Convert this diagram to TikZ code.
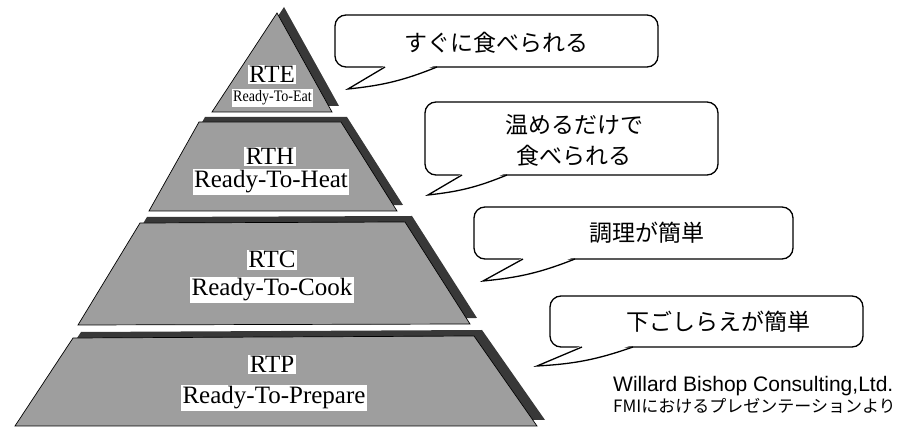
\documentclass[tikz,border=0pt]{standalone}
\usepackage{fontspec}
\usepackage{graphicx}
\setmainfont{Liberation Serif}
\newfontfamily\jpfont{Noto Sans CJK JP}
\newfontfamily\citefont{Liberation Sans}
\tikzset{
  front/.style={fill=black!38, draw=black, line width=0.7pt, line join=miter},
  shadowpart/.style={fill=black!78},
  lab/.style={fill=white, inner sep=1.5pt, anchor=base, font=\fontsize{25}{25}\selectfont},
  bubblebox/.style={draw=black, line width=1.3pt, fill=white, rounded corners=11pt},
  tailfill/.style={fill=white},
  tailline/.style={draw=black, line width=1.3pt, line join=miter},
  btext/.style={font=\jpfont\fontsize{23}{31}\selectfont, align=center, inner sep=0pt},
}
\begin{document}
\begin{tikzpicture}[x=1pt,y=-1pt]
\useasboundingbox (0,0) rectangle (903,427);

% ---------- pyramid layers ----------
% RTE
\fill[shadowpart] (284,7) -- (219,106) -- (339,106) -- cycle;
\draw[front] (277,13) -- (212,112) -- (332,112) -- cycle;
% RTH
\fill[shadowpart] (205,117) -- (347,117) -- (403,205) -- (155,206) -- cycle;
\draw[front] (199,122) -- (341,122) -- (397,211) -- (149,211) -- cycle;
% RTC
\fill[shadowpart] (147,217) -- (412,216) -- (477,318) -- (85,319) -- cycle;
\draw[front] (140,223) -- (405,222) -- (470,324) -- (78,325) -- cycle;
% RTP
\fill[shadowpart] (81,332) -- (482,330) -- (545,420) -- (23,420) -- cycle;
\draw[front] (73,338) -- (474,336) -- (537,426) -- (15,426) -- cycle;

% ---------- layer labels ----------
\node[lab] (rte) at (272,83) {RTE};
\node[lab, font=\fontsize{16}{16}\selectfont] (rtefull) at (272.5,102) {\scalebox{0.88}[1]{Ready-To-Eat}};
\node[lab] (rth) at (270,165) {RTH};
\node[lab] (rthfull) at (271,188) {Ready-To-Heat};
\node[lab] (rtc) at (272,268) {RTC};
\node[lab] (rtcfull) at (272,296) {Ready-To-Cook};
\node[lab] (rtp) at (272,373) {RTP};
\node[lab] (rtpfull) at (274,404) {Ready-To-Prepare};

% ---------- speech bubbles ----------
% bubble 1
\draw[bubblebox] (335,15) rectangle (658,67);
\fill[tailfill] (386,65) -- (348,89) to[bend right=8] (436,65) -- cycle;
\draw[tailline] (385,67) -- (348,89) to[bend right=8] (437,67);
\node[btext] (b1) at (496,42.5) {すぐに食べられる};
% bubble 2
\draw[bubblebox] (425,102) rectangle (718,175);
\fill[tailfill] (463,173) -- (428,195) to[bend right=8] (506,173) -- cycle;
\draw[tailline] (462,175) -- (428,195) to[bend right=8] (507,175);
\node[btext] (b2) at (574,140) {温めるだけで\\食べられる};
% bubble 3
\draw[bubblebox] (474,207) rectangle (793,259);
\fill[tailfill] (524,257) -- (483,281) to[bend right=8] (574,257) -- cycle;
\draw[tailline] (523,259) -- (483,281) to[bend right=8] (575,259);
\node[btext] (b3) at (647,232.5) {調理が簡単};
% bubble 4
\draw[bubblebox] (550,296) rectangle (863,347);
\fill[tailfill] (583,345) -- (537,366) to[bend right=8] (632,345) -- cycle;
\draw[tailline] (582,347) -- (537,366) to[bend right=8] (633,347);
\node[btext] (b4) at (718,322) {下ごしらえが簡単};

% ---------- source ----------
\node[anchor=base west, inner sep=0pt, font=\citefont\fontsize{21}{21}\selectfont] (src1) at (613,392) {Willard Bishop Consulting,Ltd.};
\node[anchor=base west, inner sep=0pt, font=\jpfont\fontsize{17}{17}\selectfont] (src2) at (613,413) {FMIにおけるプレゼンテーションより};
\end{tikzpicture}
\end{document}
